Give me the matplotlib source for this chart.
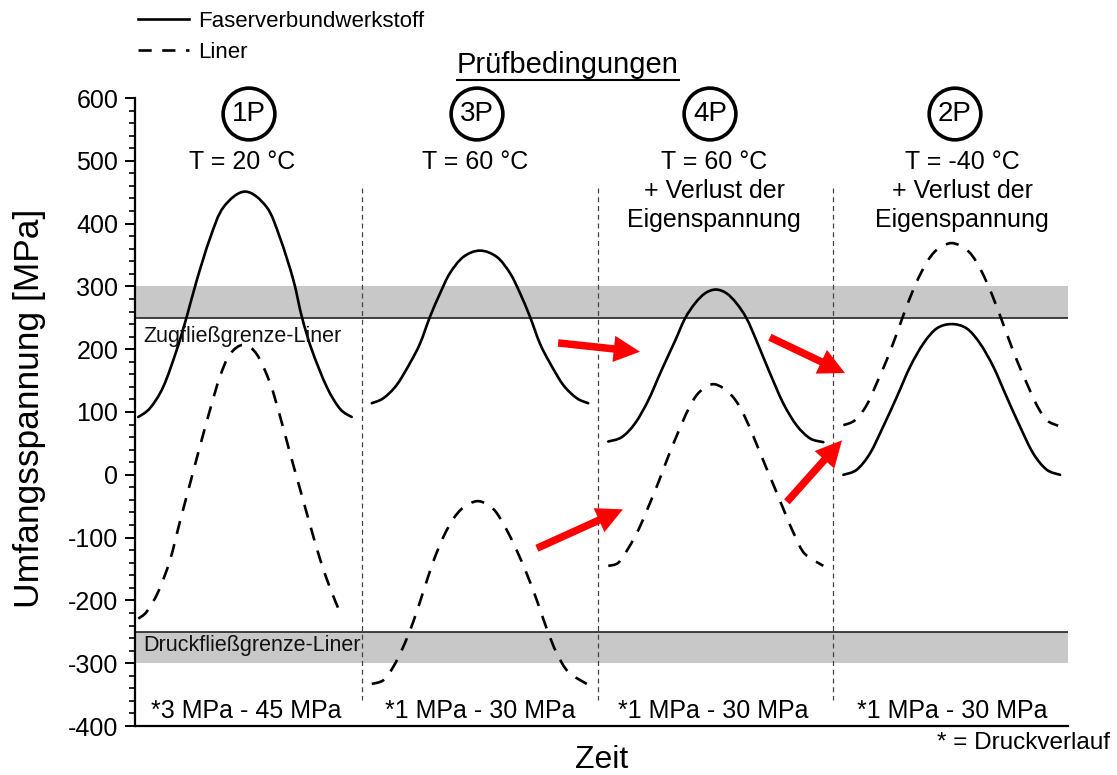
import matplotlib
matplotlib.use("Agg")
import matplotlib.pyplot as plt
from matplotlib.lines import Line2D
from matplotlib.patches import FancyArrowPatch, PathPatch
from matplotlib.path import Path
from matplotlib.ticker import MultipleLocator

plt.rcParams['font.family'] = ['Liberation Sans', 'DejaVu Sans']
plt.rcParams['axes.unicode_minus'] = False

# ---------------- data ----------------
# Section 1P (T = 20 °C)
t1_fvw = [0.014, 0.064, 0.121, 0.179, 0.222, 0.265, 0.322, 0.379, 0.472, 0.565, 0.622, 0.679, 0.715, 0.758, 0.822, 0.879, 0.929]
s1_fvw = [92, 106, 140, 199, 252, 310, 377, 426, 451, 426, 377, 310, 252, 199, 140, 105, 92]
t1_lin = [0.014, 0.050, 0.100, 0.150, 0.193, 0.236, 0.279, 0.322, 0.364, 0.407, 0.465, 0.522, 0.579, 0.622, 0.665, 0.707, 0.750, 0.793, 0.836, 0.872]
s1_lin = [-229, -218, -186, -136, -74, -14, 46, 104, 156, 192, 207, 192, 146, 93, 34, -22, -79, -134, -180, -213]

# Section 3P (T = 60 °C)
t2_fvw = [1.015, 1.065, 1.122, 1.179, 1.222, 1.265, 1.308, 1.350, 1.408, 1.479, 1.551, 1.608, 1.651, 1.693, 1.736, 1.779, 1.836, 1.894, 1.943]
s2_fvw = [114, 122, 143, 178, 209, 252, 289, 321, 347, 357, 347, 321, 289, 252, 209, 178, 143, 122, 114]
t2_lin = [1.015, 1.065, 1.107, 1.150, 1.193, 1.236, 1.279, 1.322, 1.365, 1.408, 1.465, 1.515, 1.551, 1.594, 1.636, 1.679, 1.722, 1.765, 1.808, 1.858, 1.937]
s2_lin = [-333, -327, -306, -274, -234, -186, -138, -99, -70, -52, -42, -48, -61, -88, -120, -157, -199, -245, -284, -314, -333]

# Section 4P (T = 60 °C + Verlust der Eigenspannung)
t3_fvw = [2.029, 2.087, 2.144, 2.201, 2.258, 2.315, 2.358, 2.401, 2.444, 2.490, 2.536, 2.579, 2.622, 2.665, 2.722, 2.779, 2.836, 2.894, 2.951]
s3_fvw = [53, 60, 82, 119, 167, 213, 249, 273, 289, 295, 289, 273, 249, 213, 162, 114, 79, 58, 52]
t3_lin = [2.029, 2.072, 2.115, 2.158, 2.201, 2.244, 2.286, 2.329, 2.372, 2.415, 2.472, 2.522, 2.572, 2.615, 2.658, 2.701, 2.744, 2.787, 2.830, 2.872, 2.951]
s3_lin = [-145, -140, -117, -88, -51, -12, 29, 68, 104, 130, 144, 138, 120, 92, 55, 16, -22, -61, -98, -126, -145]

# Section 2P (T = -40 °C + Verlust der Eigenspannung)
t4_fvw = [3.037, 3.094, 3.151, 3.208, 3.266, 3.323, 3.380, 3.437, 3.501, 3.566, 3.623, 3.680, 3.737, 3.794, 3.851, 3.909, 3.966]
s4_fvw = [0, 8, 34, 77, 124, 172, 209, 233, 240, 233, 209, 172, 124, 77, 34, 8, 0]
t4_lin = [3.037, 3.087, 3.137, 3.180, 3.223, 3.266, 3.308, 3.351, 3.394, 3.437, 3.501, 3.566, 3.609, 3.651, 3.694, 3.737, 3.780, 3.823, 3.866, 3.909, 3.958]
s4_lin = [79, 87, 111, 146, 183, 225, 268, 307, 338, 358, 369, 358, 338, 307, 268, 225, 183, 146, 111, 87, 78]

section_bounds = [0.973, 1.985, 2.993]
zug_grenze = (250, 300)
druck_grenze = (-300, -250)

circle_labels = ["1P", "3P", "4P", "2P"]
cond_labels = ["T = 20 °C", "T = 60 °C",
               "T = 60 °C\n+ Verlust der\nEigenspannung",
               "T = -40 °C\n+ Verlust der\nEigenspannung"]
pressure_labels = ["*3 MPa - 45 MPa", "*1 MPa - 30 MPa", "*1 MPa - 30 MPa", "*1 MPa - 30 MPa"]

# red arrows: (t_start, value_start, t_end, value_end)
arrows = [(1.814, 210, 2.165, 196),
          (2.722, 219, 3.044, 162),
          (2.795, -43, 3.031, 55),
          (1.723, -117, 2.092, -55)]

W, H = 1117, 775
fig = plt.figure(figsize=(W / 100, H / 100), dpi=100)
ax = fig.add_axes([135 / W, 1 - 726 / H, (1068 - 135) / W, (726 - 98) / H])


def fx(px):
    return px / W


def fy(py):
    return 1 - py / H


def smooth_path(t, s):
    """Smooth (Catmull-Rom as cubic Bezier) path through the read points."""
    pts = list(zip(t, s))
    n = len(pts)
    verts = [pts[0]]
    codes = [Path.MOVETO]
    for i in range(n - 1):
        p0 = pts[i - 1] if i > 0 else pts[i]
        p1 = pts[i]
        p2 = pts[i + 1]
        p3 = pts[i + 2] if i + 2 < n else pts[i + 1]
        c1 = (p1[0] + (p2[0] - p0[0]) / 6, p1[1] + (p2[1] - p0[1]) / 6)
        c2 = (p2[0] - (p3[0] - p1[0]) / 6, p2[1] - (p3[1] - p1[1]) / 6)
        verts += [c1, c2, p2]
        codes += [Path.CURVE4] * 3
    return Path(verts, codes)


# bands
ax.axhspan(*zug_grenze, color='#c8c8c8', lw=0, zorder=0)
ax.axhspan(*druck_grenze, color='#c8c8c8', lw=0, zorder=0)
ax.axhline(zug_grenze[0], color='#222222', lw=1.2, zorder=1)
ax.axhline(druck_grenze[1], color='#222222', lw=1.2, zorder=1)

# section dividers
for b in section_bounds:
    ax.plot([b, b], [457, -358], color='#444444', lw=0.9, ls=(0, (4, 3)), zorder=1)

dash = (0, (5, 4))
lw = 1.9
for t, s in [(t1_fvw, s1_fvw), (t2_fvw, s2_fvw), (t3_fvw, s3_fvw), (t4_fvw, s4_fvw)]:
    ax.add_patch(PathPatch(smooth_path(t, s), fill=False, ec='black', lw=lw,
                           capstyle='round', joinstyle='round', zorder=3))
for t, s in [(t1_lin, s1_lin), (t2_lin, s2_lin), (t3_lin, s3_lin), (t4_lin, s4_lin)]:
    ax.add_patch(PathPatch(smooth_path(t, s), fill=False, ec='black', lw=lw, ls=dash,
                           capstyle='butt', zorder=3))

for (x0, y0, x1, y1) in arrows:
    ax.add_patch(FancyArrowPatch((x0, y0), (x1, y1),
                                 arrowstyle='simple,head_length=1.05,head_width=1.05,tail_width=0.3',
                                 mutation_scale=18, color='#ff0000', lw=0,
                                 shrinkA=0, shrinkB=0, zorder=4))

ax.set_xlim(0, 4.0)
ax.set_ylim(-400, 600)
ax.yaxis.set_major_locator(MultipleLocator(100))
ax.yaxis.set_minor_locator(MultipleLocator(20))
ax.tick_params(axis='y', which='major', direction='out', length=7, width=1.4, labelsize=18, pad=5)
ax.tick_params(axis='y', which='minor', direction='out', length=4.5, width=1.2)
ax.set_xticks([])
for sp in ['top', 'right']:
    ax.spines[sp].set_visible(False)
ax.spines['left'].set_linewidth(1.6)
ax.spines['bottom'].set_linewidth(1.6)

# limit labels
fig.text(fx(143), fy(336), "Zugfließgrenze-Liner", fontsize=15.5, ha='left', va='center', color='#111111')
fig.text(fx(143), fy(646), "Druckfließgrenze-Liner", fontsize=15.5, ha='left', va='center', color='#111111')

# circles and condition texts
circ_x = [249, 477, 710, 955]
cond_x = [242, 475, 714, 962]
press_x = [246, 480, 713, 952]
for cx, lab in zip(circ_x, circle_labels):
    fig.text(fx(cx), fy(114), lab, fontsize=20, ha='center', va='center',
             bbox=dict(boxstyle='circle,pad=0.32', fc='white', ec='black', lw=2.6))
for cx, lab in zip(cond_x, cond_labels):
    fig.text(fx(cx), fy(150), lab, fontsize=18, ha='center', va='top', linespacing=1.25)
for cx, lab in zip(press_x, pressure_labels):
    fig.text(fx(cx), fy(711), lab, fontsize=18, ha='center', va='center')

fig.text(fx(1110), fy(743), "* = Druckverlauf", fontsize=17.5, ha='right', va='center')
fig.text(fx(602), fy(760), "Zeit", fontsize=23, ha='center', va='center')
fig.text(fx(30), fy(408), "Umfangsspannung [MPa]", fontsize=25.5, ha='center', va='center', rotation=90)
title = fig.text(fx(568), fy(65), "Prüfbedingungen", fontsize=21, ha='center', va='center')

# legend
handles = [Line2D([], [], color='black', lw=lw),
           Line2D([], [], color='black', lw=lw, ls=dash)]
fig.legend(handles, ["Faserverbundwerkstoff", "Liner"], loc='upper left',
           bbox_to_anchor=(fx(138), fy(11)), frameon=False, fontsize=16,
           handlelength=2.3, handletextpad=0.4, borderpad=0, borderaxespad=0,
           labelspacing=0.45)

# underline for title
fig.canvas.draw()
bb = title.get_window_extent()
fig.add_artist(Line2D([bb.x0 / W, bb.x1 / W], [fy(80), fy(80)], color='black', lw=1.5,
                      transform=fig.transFigure))

fig.savefig("out.png", dpi=100)
